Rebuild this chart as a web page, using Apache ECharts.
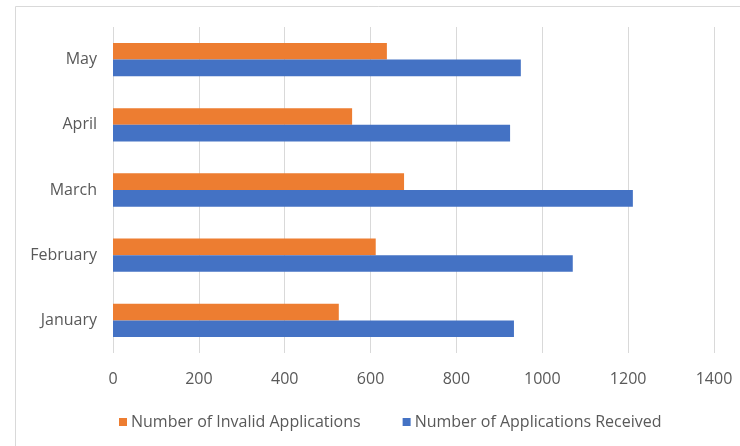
<!DOCTYPE html>
<html>
<head>
<meta charset="utf-8">
<script src="https://cdn.jsdelivr.net/npm/echarts@6/dist/echarts.min.js"></script>
<style>
  html, body { margin:0; padding:0; background:#fff; }
  #chart { width:740px; height:446px; }
</style>
</head>
<body>
<div id="chart"></div>
<script>
// categories bottom -> top
const months = ['January', 'February', 'March', 'April', 'May']
const invalidApps = [526, 612, 678, 557, 638]
const receivedApps = [934, 1071, 1211, 925, 950]

const FONT = 'Open Sans'
const chart = echarts.init(document.getElementById('chart'))

chart.setOption({
  animation: false,
  textStyle: { fontFamily: FONT },
  // outer chart frame (cut off at right/bottom like the source)
  graphic: [{
    type: 'rect',
    shape: { x: 15.5, y: 6.5, width: 800, height: 600 },
    style: { fill: 'none', stroke: '#d9d9d9', lineWidth: 1 },
    silent: true
  }],
  grid: { left: 113, right: 26, top: 27, bottom: 93 },
  legend: {
    top: 409,
    left: 114,
    itemWidth: 8,
    itemHeight: 8,
    itemGap: 42,
    icon: 'rect',
    textStyle: { color: '#595959', fontSize: 16, fontFamily: FONT, padding: [0, 0, 0, -1] },
    data: ['Number of Invalid Applications', 'Number of Applications Received']
  },
  xAxis: {
    type: 'value',
    min: 0,
    max: 1400,
    interval: 200,
    axisLine: { show: false },
    axisTick: { show: false },
    axisLabel: { color: '#595959', fontSize: 16, margin: 18, formatter: v => String(v) },
    splitLine: { lineStyle: { color: '#d9d9d9', width: 1 } }
  },
  yAxis: {
    type: 'category',
    data: months,
    axisLine: { show: false },
    axisTick: { show: false },
    axisLabel: { color: '#595959', fontSize: 16, margin: 16, padding: [3, 0, 0, 0] },
    splitLine: { show: false }
  },
  series: [
    {
      name: 'Number of Invalid Applications',
      type: 'bar',
      data: invalidApps,
      barGap: '0%',
      barCategoryGap: '49%',
      itemStyle: { color: '#ED7D31' }
    },
    {
      name: 'Number of Applications Received',
      type: 'bar',
      data: receivedApps,
      barGap: '0%',
      barCategoryGap: '49%',
      itemStyle: { color: '#4472C4' }
    }
  ]
})
</script>
</body>
</html>
